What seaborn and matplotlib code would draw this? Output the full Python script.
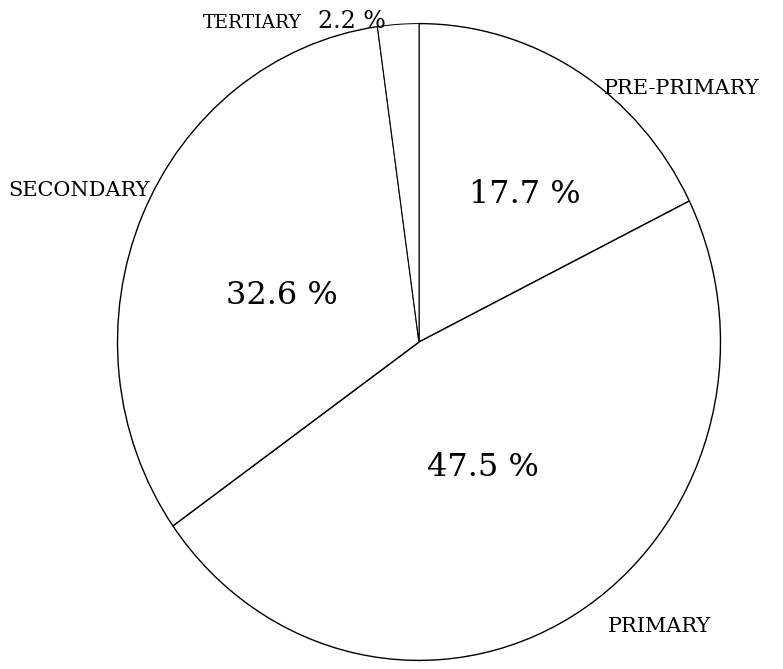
import seaborn as sns
import matplotlib.pyplot as plt

categories = ["PRE-PRIMARY", "PRIMARY", "SECONDARY", "TERTIARY"]
shares = [17.7, 47.5, 32.6, 2.2]
pct_labels = ["17.7 %", "47.5 %", "32.6 %", "2.2 %"]

sns.set_theme(style="white")
plt.rcParams['font.family'] = ['DejaVu Serif']
plt.rcParams['text.color'] = 'black'

W, H = 783, 669
fig = plt.figure(figsize=(W / 100, H / 100), dpi=100)
# axes placed so the (slightly oval) scanned pie is matched
ax = fig.add_axes([116 / W, 1 - 662 / H, 606 / W, 640 / H])

wedges, _ = ax.pie(shares, startangle=90, counterclock=False,
                   colors=["white"] * len(shares),
                   wedgeprops=dict(edgecolor="black", linewidth=1.0))
wedges[3].set_linewidth(0.7)
ax.set_aspect('auto')
ax.set_xlim(-1.005, 1.005)
ax.set_ylim(-1.005, 1.005)
ax.axis('off')


def px(x, y):
    return x / W, 1 - y / H


# category names
cat_kw = dict(fontsize=15, ha='left', va='center')
fig.text(*px(302, 23), categories[3], fontsize=13.5, ha='right', va='center')
fig.text(*px(604, 88), categories[0], **cat_kw)
fig.text(*px(8, 190), categories[2], **cat_kw)
fig.text(*px(608, 627), categories[1], **cat_kw)

# percentages
pct_kw = dict(fontsize=23, ha='center', va='center')
fig.text(*px(318, 22), pct_labels[3], fontsize=17, ha='left', va='center')
fig.text(*px(525, 195), pct_labels[0], **pct_kw)
fig.text(*px(282, 295), pct_labels[2], **pct_kw)
fig.text(*px(483, 468), pct_labels[1], **pct_kw)

plt.savefig("out.png", dpi=100)
